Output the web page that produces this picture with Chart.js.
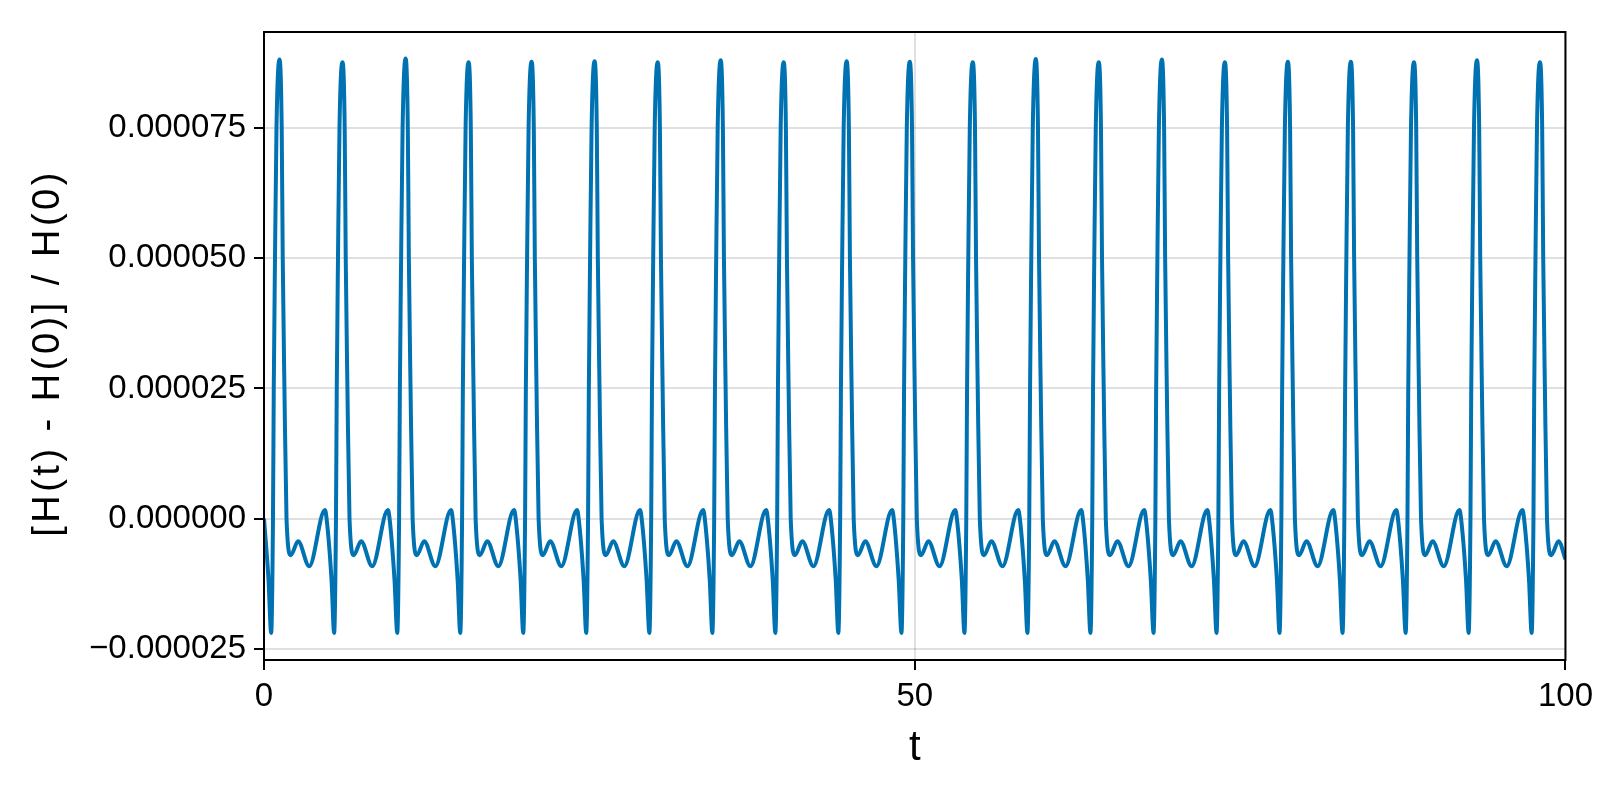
<!DOCTYPE html>
<html>
<head>
<meta charset="utf-8">
<script src="https://cdn.jsdelivr.net/npm/chart.js@4.4.1/dist/chart.umd.min.js"></script>
<style>
  html, body { margin: 0; padding: 0; background: #ffffff; }
  #c { display: block; }
</style>
</head>
<body>
<canvas id="c" width="1600" height="800"></canvas>
<script>
// ---- data ----
const xLabel = 't';
const yLabel = '[H(t) - H(0)] / H(0)';
const xTicks = [0, 50, 100];
const yTicks = [-25e-6, 0, 25e-6, 50e-6, 75e-6];

const tValues = [
  0, 0.35,
  0.55, 0.69, 0.75, 0.845, 0.96, 1.19, 1.36, 1.44, 1.57, 1.73, 2.06, 2.62, 3.47, 4.68, 4.81, 5.19,
  5.39, 5.53, 5.59, 5.685, 5.80, 6.03, 6.20, 6.28, 6.41, 6.57, 6.90, 7.46, 8.31, 9.52, 9.65, 10.03,
  10.24, 10.38, 10.44, 10.535, 10.65, 10.88, 11.05, 11.13, 11.26, 11.42, 11.75, 12.31, 13.16, 14.37, 14.50, 14.88,
  15.08, 15.22, 15.28, 15.375, 15.49, 15.72, 15.89, 15.97, 16.10, 16.26, 16.59, 17.15, 18.00, 19.21, 19.34, 19.72,
  19.92, 20.06, 20.12, 20.215, 20.33, 20.56, 20.73, 20.81, 20.94, 21.10, 21.43, 21.99, 22.84, 24.05, 24.18, 24.56,
  24.76, 24.90, 24.96, 25.055, 25.17, 25.40, 25.57, 25.65, 25.78, 25.94, 26.27, 26.83, 27.68, 28.89, 29.02, 29.40,
  29.61, 29.75, 29.81, 29.905, 30.02, 30.25, 30.42, 30.50, 30.63, 30.79, 31.12, 31.68, 32.53, 33.74, 33.87, 34.25,
  34.45, 34.59, 34.65, 34.745, 34.86, 35.09, 35.26, 35.34, 35.47, 35.63, 35.96, 36.52, 37.37, 38.58, 38.71, 39.09,
  39.29, 39.43, 39.49, 39.585, 39.70, 39.93, 40.10, 40.18, 40.31, 40.47, 40.80, 41.36, 42.21, 43.42, 43.55, 43.93,
  44.13, 44.27, 44.33, 44.425, 44.54, 44.77, 44.94, 45.02, 45.15, 45.31, 45.64, 46.20, 47.05, 48.26, 48.39, 48.77,
  48.98, 49.12, 49.18, 49.275, 49.39, 49.62, 49.79, 49.87, 50.00, 50.16, 50.49, 51.05, 51.90, 53.11, 53.24, 53.62,
  53.82, 53.96, 54.02, 54.115, 54.23, 54.46, 54.63, 54.71, 54.84, 55.00, 55.33, 55.89, 56.74, 57.95, 58.08, 58.46,
  58.66, 58.80, 58.86, 58.955, 59.07, 59.30, 59.47, 59.55, 59.68, 59.84, 60.17, 60.73, 61.58, 62.79, 62.92, 63.30,
  63.50, 63.64, 63.70, 63.795, 63.91, 64.14, 64.31, 64.39, 64.52, 64.68, 65.01, 65.57, 66.42, 67.63, 67.76, 68.14,
  68.35, 68.49, 68.55, 68.645, 68.76, 68.99, 69.16, 69.24, 69.37, 69.53, 69.86, 70.42, 71.27, 72.48, 72.61, 72.99,
  73.19, 73.33, 73.39, 73.485, 73.60, 73.83, 74.00, 74.08, 74.21, 74.37, 74.70, 75.26, 76.11, 77.32, 77.45, 77.83,
  78.03, 78.17, 78.23, 78.325, 78.44, 78.67, 78.84, 78.92, 79.05, 79.21, 79.54, 80.10, 80.95, 82.16, 82.29, 82.67,
  82.87, 83.01, 83.07, 83.165, 83.28, 83.51, 83.68, 83.76, 83.89, 84.05, 84.38, 84.94, 85.79, 87.00, 87.13, 87.51,
  87.72, 87.86, 87.92, 88.015, 88.13, 88.36, 88.53, 88.61, 88.74, 88.90, 89.23, 89.79, 90.64, 91.85, 91.98, 92.36,
  92.56, 92.70, 92.76, 92.855, 92.97, 93.20, 93.37, 93.45, 93.58, 93.74, 94.07, 94.63, 95.48, 96.69, 96.82, 97.20,
  97.40, 97.54, 97.60, 97.695, 97.81, 98.04, 98.21, 98.29, 98.42, 98.58, 98.91, 99.47, 100
];

const dHValues = [
  0, -11.8e-6,
  -21.9e-6, 0, 25e-6, 50e-6, 75e-6, 88.1e-6, 75e-6, 50e-6, 25e-6, 0, -7.0e-6, -4.3e-6, -9.1e-6, 1.7e-6, 0, -11.8e-6,
  -21.9e-6, 0, 25e-6, 50e-6, 75e-6, 87.6e-6, 75e-6, 50e-6, 25e-6, 0, -7.0e-6, -4.3e-6, -9.1e-6, 1.7e-6, 0, -11.8e-6,
  -21.9e-6, 0, 25e-6, 50e-6, 75e-6, 88.3e-6, 75e-6, 50e-6, 25e-6, 0, -7.0e-6, -4.3e-6, -9.1e-6, 1.7e-6, 0, -11.8e-6,
  -21.9e-6, 0, 25e-6, 50e-6, 75e-6, 87.6e-6, 75e-6, 50e-6, 25e-6, 0, -7.0e-6, -4.3e-6, -9.1e-6, 1.7e-6, 0, -11.8e-6,
  -21.9e-6, 0, 25e-6, 50e-6, 75e-6, 87.7e-6, 75e-6, 50e-6, 25e-6, 0, -7.0e-6, -4.3e-6, -9.1e-6, 1.7e-6, 0, -11.8e-6,
  -21.9e-6, 0, 25e-6, 50e-6, 75e-6, 87.8e-6, 75e-6, 50e-6, 25e-6, 0, -7.0e-6, -4.3e-6, -9.1e-6, 1.7e-6, 0, -11.8e-6,
  -21.9e-6, 0, 25e-6, 50e-6, 75e-6, 87.6e-6, 75e-6, 50e-6, 25e-6, 0, -7.0e-6, -4.3e-6, -9.1e-6, 1.7e-6, 0, -11.8e-6,
  -21.9e-6, 0, 25e-6, 50e-6, 75e-6, 88.0e-6, 75e-6, 50e-6, 25e-6, 0, -7.0e-6, -4.3e-6, -9.1e-6, 1.7e-6, 0, -11.8e-6,
  -21.9e-6, 0, 25e-6, 50e-6, 75e-6, 87.6e-6, 75e-6, 50e-6, 25e-6, 0, -7.0e-6, -4.3e-6, -9.1e-6, 1.7e-6, 0, -11.8e-6,
  -21.9e-6, 0, 25e-6, 50e-6, 75e-6, 87.8e-6, 75e-6, 50e-6, 25e-6, 0, -7.0e-6, -4.3e-6, -9.1e-6, 1.7e-6, 0, -11.8e-6,
  -21.9e-6, 0, 25e-6, 50e-6, 75e-6, 87.7e-6, 75e-6, 50e-6, 25e-6, 0, -7.0e-6, -4.3e-6, -9.1e-6, 1.7e-6, 0, -11.8e-6,
  -21.9e-6, 0, 25e-6, 50e-6, 75e-6, 87.6e-6, 75e-6, 50e-6, 25e-6, 0, -7.0e-6, -4.3e-6, -9.1e-6, 1.7e-6, 0, -11.8e-6,
  -21.9e-6, 0, 25e-6, 50e-6, 75e-6, 88.2e-6, 75e-6, 50e-6, 25e-6, 0, -7.0e-6, -4.3e-6, -9.1e-6, 1.7e-6, 0, -11.8e-6,
  -21.9e-6, 0, 25e-6, 50e-6, 75e-6, 87.6e-6, 75e-6, 50e-6, 25e-6, 0, -7.0e-6, -4.3e-6, -9.1e-6, 1.7e-6, 0, -11.8e-6,
  -21.9e-6, 0, 25e-6, 50e-6, 75e-6, 88.1e-6, 75e-6, 50e-6, 25e-6, 0, -7.0e-6, -4.3e-6, -9.1e-6, 1.7e-6, 0, -11.8e-6,
  -21.9e-6, 0, 25e-6, 50e-6, 75e-6, 87.6e-6, 75e-6, 50e-6, 25e-6, 0, -7.0e-6, -4.3e-6, -9.1e-6, 1.7e-6, 0, -11.8e-6,
  -21.9e-6, 0, 25e-6, 50e-6, 75e-6, 87.7e-6, 75e-6, 50e-6, 25e-6, 0, -7.0e-6, -4.3e-6, -9.1e-6, 1.7e-6, 0, -11.8e-6,
  -21.9e-6, 0, 25e-6, 50e-6, 75e-6, 87.7e-6, 75e-6, 50e-6, 25e-6, 0, -7.0e-6, -4.3e-6, -9.1e-6, 1.7e-6, 0, -11.8e-6,
  -21.9e-6, 0, 25e-6, 50e-6, 75e-6, 87.6e-6, 75e-6, 50e-6, 25e-6, 0, -7.0e-6, -4.3e-6, -9.1e-6, 1.7e-6, 0, -11.8e-6,
  -21.9e-6, 0, 25e-6, 50e-6, 75e-6, 88.0e-6, 75e-6, 50e-6, 25e-6, 0, -7.0e-6, -4.3e-6, -9.1e-6, 1.7e-6, 0, -11.8e-6,
  -21.9e-6, 0, 25e-6, 50e-6, 75e-6, 87.6e-6, 75e-6, 50e-6, 25e-6, 0, -7.0e-6, -4.3e-6, -7.8e-6
];

const xMin = 0, xMax = 100;
const yMin = -27.1e-6, yMax = 93.4e-6;

// ---- styling ----
const FAMILY = '"Liberation Sans", Arial, Helvetica, sans-serif';
const LINE_COLOR = '#0072b2';
const GRID_COLOR = 'rgba(0,0,0,0.12)';

const framePlugin = {
  id: 'frame',
  afterLayout(chart) {
    // y title: slightly letter-spaced and nudged down, as in the reference
    const ys = chart.scales.y;
    if (ys && !ys._titlePatched) {
      const orig = ys.drawTitle;
      ys.drawTitle = function () {
        const c = this.ctx;
        c.save();
        try { c.letterSpacing = '3.5px'; } catch (e) {}
        c.translate(0, 7);
        orig.call(this);
        c.restore();
      };
      ys._titlePatched = true;
    }
  },
  afterDraw(chart) {
    const {ctx, chartArea: a} = chart;
    ctx.save();
    ctx.strokeStyle = '#000';
    ctx.lineWidth = 2;
    ctx.strokeRect(a.left, a.top, a.right - a.left, a.bottom - a.top);
    ctx.restore();
  }
};

function fmtY(v) {
  const s = Math.abs(v) < 1e-12 ? '0.000000' : v.toFixed(6);
  return s.replace('-', '\u2212');
}

const points = tValues.map((t, i) => ({x: t, y: dHValues[i]}));

new Chart(document.getElementById('c'), {
  type: 'line',
  data: {
    datasets: [{
      data: points,
      borderColor: LINE_COLOR,
      borderWidth: 4,
      pointRadius: 0,
      fill: false,
      cubicInterpolationMode: 'monotone'
    }]
  },
  options: {
    responsive: false,
    animation: false,
    devicePixelRatio: 1,
    layout: { padding: { left: 0, top: 32, right: 33, bottom: 0 } },
    plugins: { legend: { display: false }, tooltip: { enabled: false } },
    scales: {
      x: {
        type: 'linear',
        min: xMin, max: xMax,
        afterBuildTicks: s => { s.ticks = xTicks.map(v => ({value: v})); },
        afterFit: s => { s.height = 140; },
        border: { display: false },
        grid: { color: GRID_COLOR, lineWidth: 2, tickColor: '#000', tickLength: 10, tickWidth: 2 },
        ticks: { font: { family: FAMILY, size: 33 }, color: '#000', padding: 7, maxRotation: 0, autoSkip: false,
                 callback: v => String(v) },
        title: { display: true, text: xLabel, color: '#000', font: { family: FAMILY, size: 42 },
                 padding: { top: 0, bottom: 26 } }
      },
      y: {
        type: 'linear',
        min: yMin, max: yMax,
        afterBuildTicks: s => { s.ticks = yTicks.map(v => ({value: v})); },
        afterFit: s => { s.width = 264; },
        border: { display: false },
        grid: { color: GRID_COLOR, lineWidth: 2, tickColor: '#000', tickLength: 10, tickWidth: 2 },
        ticks: { font: { family: FAMILY, size: 33 }, color: '#000', padding: 8, autoSkip: false,
                 callback: v => fmtY(v) },
        title: { display: true, text: yLabel, color: '#000', font: { family: FAMILY, size: 38 },
                 padding: { top: 26, bottom: 0 } }
      }
    }
  },
  plugins: [framePlugin]
});
</script>
</body>
</html>
